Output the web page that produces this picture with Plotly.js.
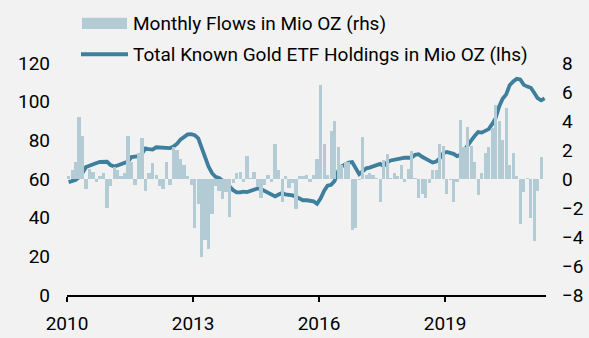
<!DOCTYPE html>
<html>
<head>
<meta charset="utf-8">
<script src="https://cdn.plot.ly/plotly-3.0.1.min.js"></script>
<style>
html,body{margin:0;padding:0;background:#f2f2f2;}
#chart{width:589px;height:338px;}
</style>
</head>
<body>
<div id="chart"></div>
<script>
// Monthly flows in Mio OZ (rhs), Jan 2010 .. Apr 2021
const flows = [
 0.2, 0.6, 1.2, 4.3, 3.0, -0.7, 0.7, 0.5, -0.2, 0.2, 0.4, -2.0,
 -0.5, 0.8, 0.6, 0.2, 0.4, 3.0, 1.2, -0.4, 1.8, 2.8, -0.8, 0.4,
 1.1, 0.3, -0.5, -0.7, 1.2, -0.4, 2.2, 2.0, 1.4, 1.0, 0.2, -0.4,
 -3.4, -1.7, -5.4, -4.2, -4.8, -2.4, -0.5, -0.8, -1.4, -0.9, -2.6, -0.3,
 0.4, 0.5, -0.2, 1.6, 0.1, 0.5, -0.5, -1.3, -0.4, 0.3, -0.2, 2.4,
 0.6, -1.6, 0.2, -0.6, -0.3, -2.1, 0.2, 0.2, 0.3, -0.2, 0.3, 1.4,
 6.5, 2.4, 0.3, 3.3, 4.0, 2.2, 1.0, 1.2, 1.2, -3.5, -3.4, -0.1,
 2.9, 0.3, 0.4, 0.3, 0.1, -1.6, 1.3, 1.7, 0.1, 0.4, 0.2, 1.0,
 -0.2, 0.7, 1.9, 0.1, -1.3, -1.0, -1.3, -0.3, 0.6, 0.6, 2.4, 2.3,
 -1.0, -0.1, -1.6, -0.2, 4.1, 2.2, 3.6, 2.3, 1.2, -1.1, 0.4, 1.8,
 2.2, 3.5, 5.1, 4.0, 2.7, 4.9, 1.0, 1.8, 0.2, -3.1, -0.9, 0.1,
 -2.7, -4.3, -0.8, 1.5
];
// Total known gold ETF holdings in Mio OZ (lhs), Jan 2010 .. May 2021
const holdings = [
 58.4, 58.9, 59.5, 60.8, 63.0, 66.2, 67.0, 67.3, 68.3, 68.8, 69.0, 68.9,
 67.2, 66.5, 67.0, 67.6, 68.0, 69.0, 71.3, 71.5, 71.8, 73.2, 75.8, 75.4,
 75.2, 76.4, 76.3, 76.0, 75.7, 76.0, 76.8, 78.3, 80.5, 82.0, 83.1, 83.2,
 82.7, 81.0, 76.5, 71.2, 66.5, 63.0, 61.1, 60.5, 59.0, 58.0, 56.2, 54.2,
 53.1, 53.1, 53.5, 53.2, 53.9, 54.8, 55.1, 54.8, 53.7, 52.7, 51.7, 51.0,
 52.0, 52.8, 52.0, 51.8, 51.5, 50.8, 49.8, 49.0, 49.0, 48.9, 48.4, 47.2,
 50.0, 54.0, 56.5, 57.0, 59.0, 64.0, 66.5, 67.5, 68.5, 68.8, 65.5, 62.5,
 64.0, 65.5, 65.9, 66.5, 67.3, 67.8, 66.7, 68.6, 69.6, 70.1, 70.4, 70.7,
 71.0, 71.0, 71.0, 72.5, 72.8, 71.5, 70.3, 69.5, 68.5, 69.0, 70.7, 73.3,
 74.0, 73.6, 73.0, 71.8, 72.5, 74.7, 77.5, 79.8, 82.3, 84.3, 84.0, 84.7,
 85.8, 88.5, 91.5, 97.5, 101.5, 103.8, 108.5, 110.5, 111.8, 111.5, 108.7, 107.8,
 107.2, 104.5, 101.8, 100.7, 101.7
];
const startYear = 2010;
const xTickVals = ['2010-01-01', '2013-01-01', '2016-01-01', '2019-01-01'];
const xTickText = ['2010', '2013', '2016', '2019'];
const lhsTicks = [0, 20, 40, 60, 80, 100, 120];
const rhsTicks = [-8, -6, -4, -2, 0, 2, 4, 6, 8];
const barName = 'Monthly Flows in Mio OZ (rhs)';
const lineName = 'Total Known Gold ETF Holdings in Mio OZ (lhs)';

function monthDate(i) {
  const y = startYear + Math.floor(i / 12);
  const m = (i % 12) + 1;
  return y + '-' + (m < 10 ? '0' + m : m) + '-15';
}
const barDates = flows.map((_, i) => monthDate(i));
const lineDates = holdings.map((_, i) => monthDate(i));

const barColor = '#b3cbd5';
const lineColor = '#3d7f9c';
const FONT = 'Roboto, "Noto Sans", sans-serif';
const FS = 19;

const traces = [
  {
    type: 'bar', name: barName, x: barDates, y: flows, yaxis: 'y2',
    marker: {color: barColor, line: {width: 0}}, showlegend: false, hoverinfo: 'skip'
  },
  {
    type: 'scatter', mode: 'lines', name: lineName, x: lineDates, y: holdings, yaxis: 'y',
    line: {color: lineColor, width: 3.8}, showlegend: false, hoverinfo: 'skip'
  }
];

const L = 67, R = 43, T = 63, B = 43;
const W = 589 - L - R, H = 338 - T - B;
const px = v => (v - L) / W;
const py = v => (338 - B - v) / H;

const layout = {
  width: 589, height: 338,
  margin: {l: L, r: R, t: T, b: B, pad: 0},
  paper_bgcolor: '#f2f2f2', plot_bgcolor: '#f2f2f2',
  font: {family: FONT, size: FS, color: '#000'},
  bargap: 0,
  showlegend: false,
  xaxis: {
    type: 'date', range: ['2010-01-01', '2021-05-27'],
    tickvals: xTickVals, ticktext: xTickText,
    showgrid: false, zeroline: false,
    showline: true, linecolor: '#000', linewidth: 2,
    ticks: 'outside', ticklen: 5, tickwidth: 1.5, tickcolor: '#000',
    ticklabelstandoff: 5,
    tickfont: {family: FONT, size: FS, color: '#000'}
  },
  yaxis: {
    range: [0, 120], tickvals: lhsTicks, showgrid: false, zeroline: false,
    showline: false, ticks: '', ticklabelstandoff: 16,
    tickfont: {family: FONT, size: FS, color: '#000'}
  },
  yaxis2: {
    range: [-8, 8], tickvals: rhsTicks, overlaying: 'y', side: 'right',
    showgrid: false, zeroline: false, showline: false, ticks: '',
    ticklabelstandoff: 15,
    tickfont: {family: FONT, size: FS, color: '#000'}
  },
  shapes: [
    {type: 'rect', xref: 'paper', yref: 'paper', x0: px(82), x1: px(127), y0: py(29), y1: py(17.7),
     fillcolor: barColor, line: {width: 0}},
    {type: 'line', xref: 'paper', yref: 'paper', x0: px(81), x1: px(128), y0: py(54.3), y1: py(54.3),
     line: {color: lineColor, width: 4}}
  ],
  annotations: [
    {xref: 'paper', yref: 'paper', x: px(131), y: py(23.5), xanchor: 'left', yanchor: 'middle',
     text: barName, showarrow: false, font: {family: FONT, size: FS, color: '#000'}},
    {xref: 'paper', yref: 'paper', x: px(131), y: py(54.5), xanchor: 'left', yanchor: 'middle',
     text: lineName, showarrow: false, font: {family: FONT, size: FS, color: '#000'}}
  ]
};

Plotly.newPlot('chart', traces, layout, {staticPlot: true, displayModeBar: false});
</script>
</body>
</html>
